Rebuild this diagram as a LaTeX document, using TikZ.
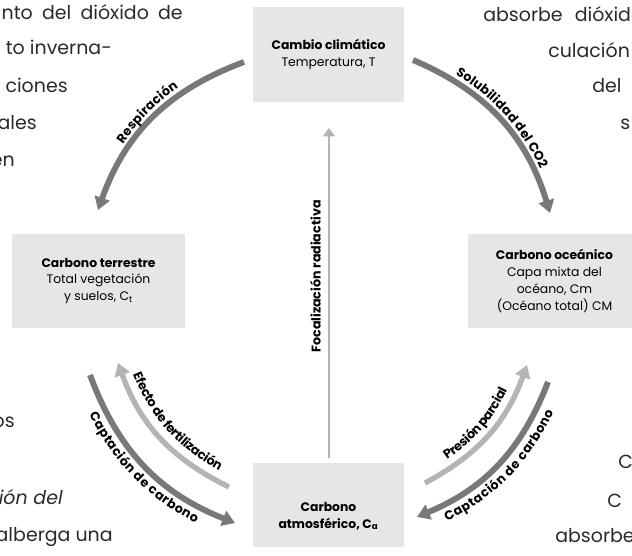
\documentclass[tikz,border=0pt]{standalone}
\usepackage{fontspec}
\setmainfont{Poppins}
\usetikzlibrary{arrows.meta,decorations.text}

\definecolor{boxgray}{HTML}{E6E6E6}
\definecolor{flowdark}{HTML}{787878}
\definecolor{flowlight}{HTML}{B4B4B4}
\definecolor{pagetext}{HTML}{2A2A2A}

\begin{document}
\begin{tikzpicture}[x=0.025cm,y=0.025cm,
    box/.style={fill=boxgray,inner sep=0pt,align=center,font=\fontsize{8.8}{12}\selectfont},
    flow/.style={line width=4.2pt,flowdark,-{Triangle[width=11pt,length=9pt]}},
    flowpale/.style={flow,line width=3.8pt,flowlight},
    % curved label written along a flow, #1 = its text, #2 = distance to the flow
    along/.style 2 args={decorate,decoration={text along path,text align=center,raise=#2,
      text={|\bfseries\fontsize{9}{10}\selectfont|#1}}},
    flowlabel/.style={font=\bfseries\fontsize{9}{10}\selectfont,text=black,sloped,inner sep=3pt},
    page/.style={font=\fontsize{13.5}{15}\selectfont,text=pagetext,inner sep=0pt}]
  \useasboundingbox (0,0) rectangle (632,556);
  \clip (0,0) rectangle (632,556);

  % running text of the page around the figure
  \node[page,anchor=base east] (pl1) at (183,536) {\makebox[4.525cm][s]{nto del dióxido de}};
  \node[page,anchor=base east] (pl2) at (112,501) {to inverna-};
  \node[page,anchor=base east] (pl3) at (68,463) {ciones};
  \node[page,anchor=base east] (pl4) at (37,426) {ales};
  \node[page,anchor=base east] (pl5) at (15,389) {en};
  \node[page,anchor=base east] (pl6) at (15,128) {os};
  \node[page,anchor=base east] (pl7) at (63,51) {\itshape ción del};
  \node[page,anchor=base east] (pl8) at (113,14) {alberga una};
  \node[page,anchor=base west] (pr1) at (483,534) {absorbe\hspace{5pt} dióxido};
  \node[page,anchor=base west] (pr2) at (548,498) {culación};
  \node[page,anchor=base west] (pr3) at (592,463) {del};
  \node[page,anchor=base west] (pr4) at (620,426) {s};
  \node[page,anchor=base west] (pr5) at (618,87) {C};
  \node[page,anchor=base west] (pr6) at (607,48) {C};
  \node[page,anchor=base west] (pr7) at (555,13) {absorbe};

  % reservoirs
  \node[box,minimum width=3.775cm,minimum height=2.375cm] (clima) at (328.5,501.5)
    {\textbf{Cambio climático}\\Temperatura, T};
  \node[box,minimum width=4.325cm,minimum height=2.35cm] (land) at (98.5,275)
    {\textbf{Carbono terrestre}\\Total vegetación\\y suelos, C\textsubscript{t}};
  \node[box,minimum width=4.325cm,minimum height=2.35cm] (ocean) at (554.5,275)
    {\textbf{Carbono oceánico}\\Capa mixta del\\océano, Cm\\(Océano total) CM};
  \node[box,minimum width=3.775cm,minimum height=2.1cm,
    label={[box,fill=none,font=\bfseries\fontsize{8.8}{12}\selectfont,yshift=-0.275cm]center:Carbono\\atmosférico, C\textsubscript{a}}]
    (atm) at (328.5,51) {};

  % ends of the flows
  \coordinate (resp-a) at (244,494);  \coordinate (resp-b) at (98,346);
  \coordinate (sol-a) at (413,496);   \coordinate (sol-b) at (550,343);
  \coordinate (tup-a) at (90,181);    \coordinate (tup-b) at (235,33);
  \coordinate (fert-a) at (229,69);   \coordinate (fert-b) at (118,193);
  \coordinate (pres-a) at (425,73);   \coordinate (pres-b) at (527,191);
  \coordinate (oup-a) at (548,174);   \coordinate (oup-b) at (417,39);
  \coordinate (forc-a) at (329,98);   \coordinate (forc-b) at (329,428);

  \draw[flow] (resp-a) to[bend right=25] (resp-b);
  \draw[flow] (sol-a) to[bend left=25] (sol-b);
  \draw[flow] (tup-a) to[bend right=24] (tup-b);
  \draw[flowpale] (fert-a) to[bend left=22] (fert-b);
  \draw[flowpale] (pres-a) to[bend right=21] (pres-b);
  \draw[flow] (oup-a) to[bend left=23] (oup-b);

  % names of the flows, run along them
  \path[along={Respiración}{4.5pt}] (resp-b) to[bend left=25] (resp-a);
  \path[along={Solubilidad del CO2}{4.5pt}] (sol-a) to[bend left=25] (sol-b);
  \path[along={Captación de carbono}{-11.5pt}] (tup-a) to[bend right=24] (tup-b);
  \path[along={Efecto de fertilización}{7pt}] (fert-b) to[bend right=22] (fert-a);
  \path[along={Presión parcial}{6pt}] (pres-a) to[bend right=21] (pres-b);
  \path[along={Captación de carbono}{-12pt}] (oup-b) to[bend right=23] (oup-a);

  \draw[line width=1.6pt,flowlight,-{Triangle[width=8.5pt,length=6pt]}] (forc-a)
    -- node[flowlabel,pos=0.55,above=2pt] {Focalización radiactiva} (forc-b);
\end{tikzpicture}
\end{document}
